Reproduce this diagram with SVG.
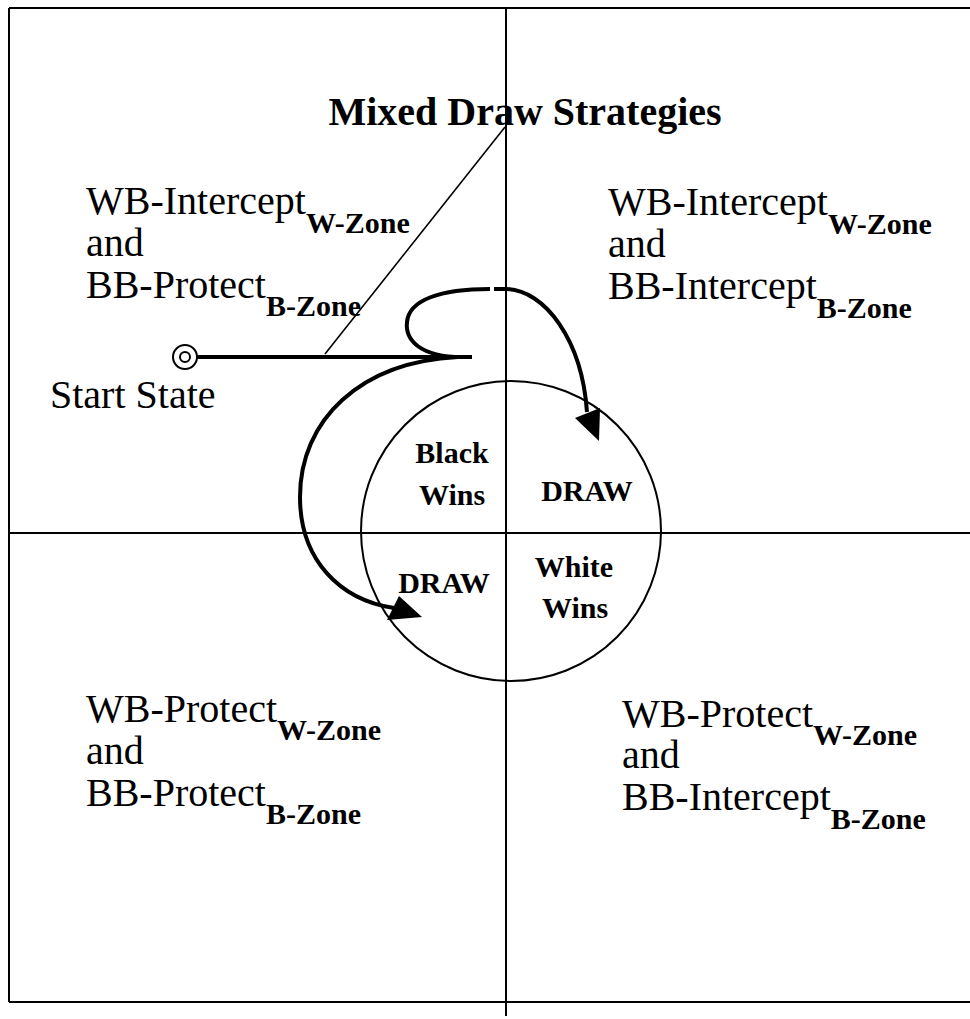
<svg xmlns="http://www.w3.org/2000/svg" width="970" height="1019" viewBox="0 0 970 1019">
<style>
text{font-family:"Liberation Serif","Times New Roman",serif;fill:#000}
.lbl{font-size:40px}
.sub{font-size:30px;font-weight:bold}
.ttl{font-size:40px;font-weight:bold}
.cl{font-size:30px;font-weight:bold;text-anchor:middle}
.frame{stroke:#000;stroke-width:2;fill:none}
.thick{stroke:#000;stroke-width:4;fill:none}
.thin{stroke:#000;stroke-width:1.6;fill:none}
</style>
<rect width="970" height="1019" fill="#fff"/>
<g id="frame">
<line class="frame" x1="9" y1="8" x2="970" y2="8"/>
<line class="frame" x1="9" y1="8" x2="9" y2="1002"/>
<line class="frame" x1="9" y1="1002" x2="970" y2="1002" stroke-width="3"/>
<line class="frame" x1="506" y1="8" x2="506" y2="1016"/>
<line class="frame" x1="9" y1="533" x2="970" y2="533" stroke-width="2.5"/>
</g>
<g id="outcome-circle">
<circle cx="511" cy="531" r="150" fill="none" stroke="#000" stroke-width="2"/>
<text class="cl" x="452" y="463">Black</text>
<text class="cl" x="452" y="505">Wins</text>
<text class="cl" x="587" y="501">DRAW</text>
<text class="cl" x="444" y="593">DRAW</text>
<text class="cl" x="574" y="577">White</text>
<text class="cl" x="575" y="618">Wins</text>
</g>
<g id="title"><text class="ttl" x="525" y="125" text-anchor="middle">Mixed Draw Strategies</text></g>
<g id="q-top-left">
<text class="lbl" x="86" y="214">WB-Intercept<tspan class="sub" dy="19">W-Zone</tspan></text>
<text class="lbl" x="86" y="256">and</text>
<text class="lbl" x="86" y="298">BB-Protect<tspan class="sub" dy="18">B-Zone</tspan></text>
</g>
<g id="q-top-right">
<text class="lbl" x="608" y="215">WB-Intercept<tspan class="sub" dy="19">W-Zone</tspan></text>
<text class="lbl" x="608" y="257">and</text>
<text class="lbl" x="608" y="299">BB-Intercept<tspan class="sub" dy="19">B-Zone</tspan></text>
</g>
<g id="q-bottom-left">
<text class="lbl" x="86" y="722">WB-Protect<tspan class="sub" dy="18">W-Zone</tspan></text>
<text class="lbl" x="86" y="764">and</text>
<text class="lbl" x="86" y="806">BB-Protect<tspan class="sub" dy="18">B-Zone</tspan></text>
</g>
<g id="q-bottom-right">
<text class="lbl" x="622" y="727">WB-Protect<tspan class="sub" dy="18">W-Zone</tspan></text>
<text class="lbl" x="622" y="768">and</text>
<text class="lbl" x="622" y="810">BB-Intercept<tspan class="sub" dy="19">B-Zone</tspan></text>
</g>
<g id="start-state">
<circle cx="185" cy="357" r="12" fill="#fff" stroke="#000" stroke-width="2"/>
<circle cx="185" cy="357" r="5" fill="none" stroke="#000" stroke-width="2"/>
<text class="lbl" x="50" y="408">Start State</text>
</g>
<g id="connectors">
<line class="thin" x1="325" y1="354" x2="505" y2="127"/>
<line class="thick" x1="197" y1="357" x2="472" y2="357"/>
<path class="thick" d="M 462 357 C 420 357 405 340 407 322 C 409 300 440 289 490 289"/>
<path class="thick" d="M 494 289 L 506 289 C 545 290 582 340 587 412"/>
<polygon points="575,418 600,408 599,441" fill="#000"/>
<path class="thick" d="M 458 357 C 360 362 300 420 300 497 C 300 560 340 600 394 608"/>
<polygon points="399,596 387,620 422,617" fill="#000"/>
</g>
</svg>
